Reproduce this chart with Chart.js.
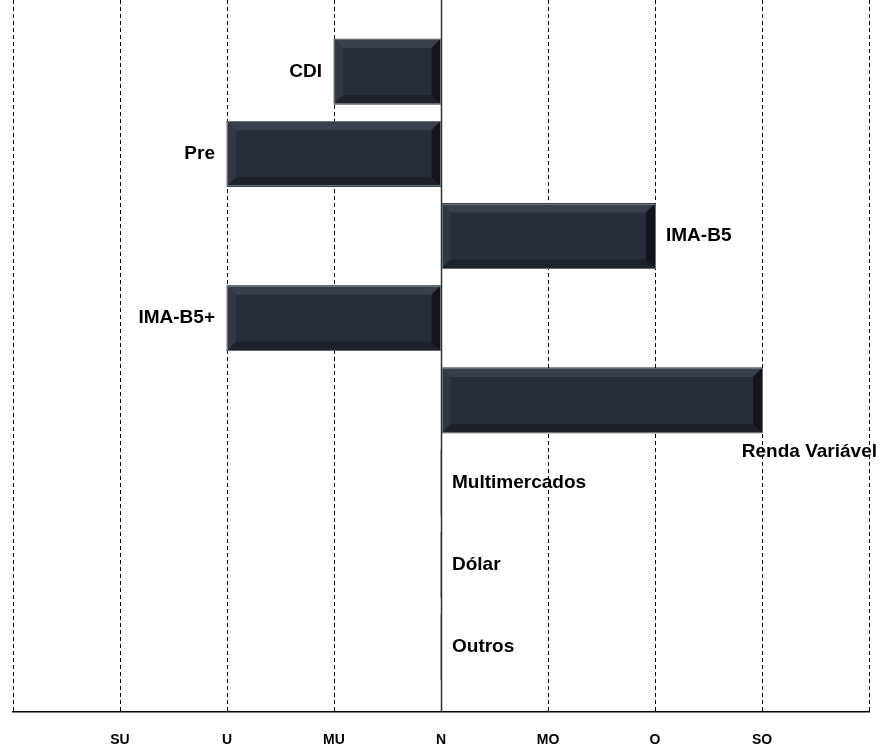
<!DOCTYPE html>
<html>
<head>
<meta charset="utf-8">
<script src="https://cdn.jsdelivr.net/npm/chart.js@4"></script>
<style>
  html, body { margin: 0; padding: 0; background: #fff; }
  #wrap { width: 891px; height: 751px; }
</style>
</head>
<body>
<div id="wrap"><canvas id="chart"></canvas></div>
<script>
// Datos
var categorias = ["CDI", "Pre", "IMA-B5", "IMA-B5+", "Renda Variável", "Multimercados", "Dólar", "Outros"];
var valores = [-1, -2, 2, -2, 3, 0, 0, 0];
var tickValores = [-4, -3, -2, -1, 0, 1, 2, 3, 4];
var tickEtiquetas = ["", "SU", "U", "MU", "N", "MO", "O", "SO", ""];

var fuente = "'Liberation Sans', Arial, sans-serif";

// Linea solida en cero
var lineaCero = {
    id: 'lineaCero',
    afterDatasetsDraw: function (chart) {
        var ctx = chart.ctx, area = chart.chartArea;
        var x0 = Math.round(chart.scales.x.getPixelForValue(0)) + 0.5;
        ctx.save();
        ctx.strokeStyle = '#333';
        ctx.lineWidth = 1.5;
        ctx.beginPath();
        ctx.moveTo(x0, area.top);
        ctx.lineTo(x0, area.bottom);
        ctx.stroke();
        ctx.restore();
    }
};

// Efecto biselado sobre las barras
var bisel = {
    id: 'bisel',
    afterDatasetsDraw: function (chart) {
        var ctx = chart.ctx;
        var meta = chart.getDatasetMeta(0);
        meta.data.forEach(function (bar) {
            var p = bar.getProps(['x', 'y', 'base', 'height'], true);
            var l = Math.min(p.x, p.base), r = Math.max(p.x, p.base);
            var t = p.y - p.height / 2, b = p.y + p.height / 2;
            if (r - l < 1) return;
            var d = 9;
            ctx.save();
            ctx.fillStyle = '#272e39';
            ctx.fillRect(l, t, r - l, b - t);
            // arriba
            ctx.fillStyle = '#38404c';
            ctx.beginPath();
            ctx.moveTo(l, t); ctx.lineTo(r, t); ctx.lineTo(r - d, t + d); ctx.lineTo(l + d, t + d); ctx.closePath();
            ctx.fill();
            // izquierda
            ctx.fillStyle = '#303843';
            ctx.beginPath();
            ctx.moveTo(l, t); ctx.lineTo(l + d, t + d); ctx.lineTo(l + d, b - d); ctx.lineTo(l, b); ctx.closePath();
            ctx.fill();
            // abajo
            ctx.fillStyle = '#1d222a';
            ctx.beginPath();
            ctx.moveTo(l, b); ctx.lineTo(l + d, b - d); ctx.lineTo(r - d, b - d); ctx.lineTo(r, b); ctx.closePath();
            ctx.fill();
            // derecha
            ctx.fillStyle = '#12161c';
            ctx.beginPath();
            ctx.moveTo(r, t); ctx.lineTo(r, b); ctx.lineTo(r - d, b - d); ctx.lineTo(r - d, t + d); ctx.closePath();
            ctx.fill();
            // borde
            ctx.strokeStyle = '#6b7078';
            ctx.lineWidth = 1;
            ctx.strokeRect(Math.round(l) + 0.5, Math.round(t) + 0.5, Math.round(r - l) - 1, Math.round(b - t) - 1);
            ctx.restore();
        });
    }
};

// Etiquetas de categorias junto a las barras
var etiquetas = {
    id: 'etiquetas',
    afterDatasetsDraw: function (chart) {
        var ctx = chart.ctx;
        var meta = chart.getDatasetMeta(0);
        ctx.save();
        ctx.font = 'bold 19px ' + fuente;
        ctx.fillStyle = '#000';
        ctx.textBaseline = 'middle';
        meta.data.forEach(function (bar, i) {
            var p = bar.getProps(['x', 'y', 'height'], true);
            var texto = categorias[i];
            var x, y = p.y;
            if (valores[i] < 0) {
                ctx.textAlign = 'right';
                x = p.x - 12;
            } else {
                ctx.textAlign = 'left';
                x = p.x + 11;
                var w = ctx.measureText(texto).width;
                if (x + w > chart.width - 10) {
                    ctx.textAlign = 'right';
                    x = chart.width - 14;
                    y = p.y + p.height / 2 + 19;
                }
            }
            ctx.fillText(texto, x, y);
        });
        ctx.restore();
    }
};

var datos = {
    datasets: [{
        data: valores.map(function (v, i) { return { x: v, y: i }; }),
        backgroundColor: '#272e39',
        borderWidth: 0,
        barThickness: 65
    }]
};

var config = {
    type: 'bar',
    data: datos,
    options: {
        indexAxis: 'y',
        responsive: true,
        maintainAspectRatio: false,
        animation: false,
        layout: { padding: { left: 13, right: 22, top: 0, bottom: 0 } },
        plugins: {
            legend: { display: false },
            tooltip: { enabled: false }
        },
        scales: {
            x: {
                type: 'linear',
                min: -4,
                max: 4,
                afterBuildTicks: function (axis) {
                    axis.ticks = tickValores.map(function (v) { return { value: v }; });
                },
                grid: {
                    color: '#000',
                    lineWidth: 1,
                    drawTicks: true,
                    tickLength: 18,
                    tickColor: 'rgba(0,0,0,0)'
                },
                border: { display: true, color: '#000', width: 1.5, dash: [4, 3] },
                ticks: {
                    autoSkip: false,
                    maxRotation: 0,
                    padding: 2,
                    color: '#000',
                    font: { family: fuente, size: 14, weight: 'bold' },
                    callback: function (value) {
                        return tickEtiquetas[tickValores.indexOf(value)];
                    }
                }
            },
            y: {
                type: 'linear',
                reverse: true,
                offset: false,
                min: -0.871,
                max: 7.792,
                display: false
            }
        }
    },
    plugins: [lineaCero, bisel, etiquetas]
};

new Chart(document.getElementById('chart').getContext('2d'), config);
</script>
</body>
</html>
